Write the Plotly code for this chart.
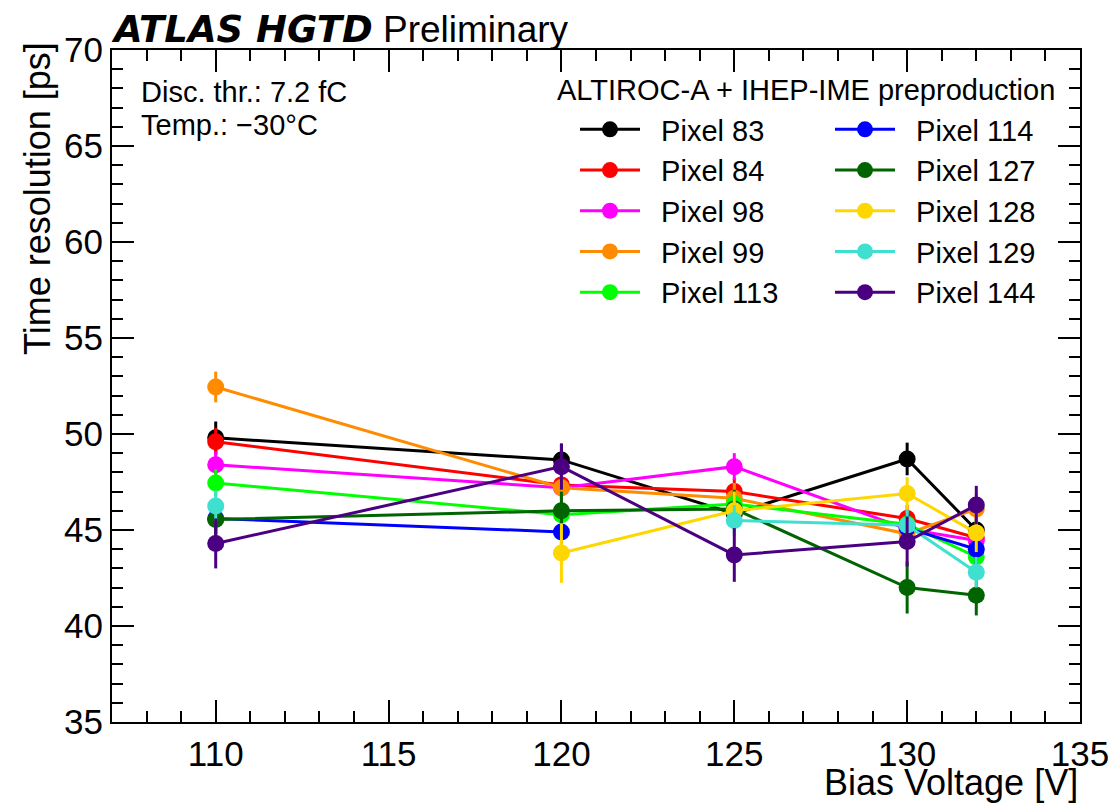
import plotly.graph_objects as go

# ---- data ----
voltages = [110, 120, 125, 130, 132]

pixel_names = ["Pixel 83", "Pixel 84", "Pixel 98", "Pixel 99", "Pixel 113",
               "Pixel 114", "Pixel 127", "Pixel 128", "Pixel 129", "Pixel 144"]

p83 = [49.8, 48.65, 45.85, 48.7, 45.0]
p84 = [49.6, 47.35, 47.0, 45.6, 44.6]
p98 = [48.4, 47.2, 48.3, 45.05, 44.45]
p99 = [52.45, 47.2, 46.65, 44.8, 46.1]
p113 = [47.45, 45.8, 46.35, 45.3, 43.6]
p114 = [45.6, 44.9, None, 45.1, 44.0]
p127 = [45.55, 46.0, 46.1, 42.0, 41.6]
p128 = [None, 43.8, 46.0, 46.9, 44.85]
p129 = [46.25, None, 45.5, 45.25, 42.8]
p144 = [44.3, 48.3, 43.7, 44.4, 46.3]

e83 = [0.85, 0.85, 0.8, 0.85, 0.8]
e84 = [0.7, 0.7, 0.7, 0.7, 0.7]
e98 = [0.7, 0.7, 0.7, 0.7, 0.7]
e99 = [0.8, 0.8, 0.8, 0.8, 0.8]
e113 = [0.7, 0.7, 0.7, 0.7, 0.7]
e114 = [0.8, 0.8, None, 0.8, 0.8]
e127 = [1.0, 1.0, 1.0, 1.35, 1.05]
e128 = [None, 1.55, 1.0, 0.85, 1.0]
e129 = [0.8, None, 0.8, 0.8, 0.8]
e144 = [1.3, 1.2, 1.4, 1.3, 1.0]

series = [p83, p84, p98, p99, p113, p114, p127, p128, p129, p144]
errors = [e83, e84, e98, e99, e113, e114, e127, e128, e129, e144]
colors = ["#000000", "#ff0000", "#ff00ff", "#ff8c00", "#00ff00",
          "#0000ff", "#006400", "#ffd700", "#40e0d0", "#4b0082"]
# legend column for each pixel
legend_ids = ["legend"] * 5 + ["legend2"] * 5

FONT = "Liberation Sans, Arial, Helvetica, sans-serif"

fig = go.Figure()
for name, ys, es, col, lg in zip(pixel_names, series, errors, colors, legend_ids):
    fig.add_trace(go.Scatter(
        x=voltages, y=ys, name="\u00a0\u00a0" + name, mode="lines+markers",
        line=dict(color=col, width=3),
        marker=dict(color=col, size=17, symbol="circle"),
        error_y=dict(type="data", array=[e if e is not None else 0 for e in es],
                     visible=True, color=col, thickness=3, width=0),
        connectgaps=False, legend=lg,
    ))

axis_common = dict(
    showline=True, linecolor="black", linewidth=2, mirror="allticks",
    ticks="inside", ticklen=22, tickwidth=2, tickcolor="black",
    showgrid=False, zeroline=False,
    tickfont=dict(family=FONT, size=35, color="black"),
)

fig.update_xaxes(range=[107, 135], dtick=5, tick0=0,
                 minor=dict(dtick=1, ticks="inside", ticklen=11, tickwidth=2, tickcolor="black"),
                 **axis_common)
fig.update_yaxes(range=[35, 70], dtick=5, tick0=0,
                 minor=dict(dtick=1, ticks="inside", ticklen=11, tickwidth=2, tickcolor="black"),
                 **axis_common)

legend_common = dict(
    orientation="v", y=(722 - 104) / 672, xanchor="left", yanchor="top",
    font=dict(family=FONT, size=29, color="black"),
    bgcolor="rgba(0,0,0,0)", itemwidth=60, tracegroupgap=0,
)

fig.update_layout(
    width=1114, height=806,
    margin=dict(l=112, r=34, t=50, b=84, autoexpand=False),
    paper_bgcolor="white", plot_bgcolor="white",
    font=dict(family=FONT, color="black"),
    showlegend=True,
    legend=dict(x=(575 - 112) / 968, **legend_common),
    legend2=dict(x=(830 - 112) / 968, **legend_common),
)

annotations = [
    dict(text="<b><i><span style='font-family:DejaVu Sans'>ATLAS HGTD</span></i></b> Preliminary",
         xref="paper", yref="paper",
         x=0, y=1, xanchor="left", yanchor="bottom", showarrow=False, xshift=-3,
         font=dict(family=FONT, size=37, color="black"), yshift=-3),
    dict(text="Disc. thr.: 7.2 fC", xref="paper", yref="paper",
         x=(139 - 112) / 968, y=(722 - 92) / 672, xanchor="left", yanchor="middle",
         showarrow=False, font=dict(family=FONT, size=29, color="black")),
    dict(text="Temp.: \u221230\u00b0C", xref="paper", yref="paper",
         x=(139 - 112) / 968, y=(722 - 125) / 672, xanchor="left", yanchor="middle",
         showarrow=False, font=dict(family=FONT, size=29, color="black")),
    dict(text="ALTIROC-A + IHEP-IME preproduction", xref="paper", yref="paper",
         x=(1057 - 112) / 968, y=(722 - 90) / 672, xanchor="right", yanchor="middle",
         showarrow=False, font=dict(family=FONT, size=29, color="black")),
    dict(text="Time resolution [ps]", xref="paper", yref="paper",
         x=0, y=1, xanchor="right", yanchor="top", xshift=-52, yshift=10,
         textangle=-90, showarrow=False, font=dict(family=FONT, size=36, color="black")),
    dict(text="Bias Voltage [V]", xref="paper", yref="paper",
         x=1, y=-(805 - 722) / 672, xanchor="right", yanchor="bottom",
         showarrow=False, font=dict(family=FONT, size=36, color="black")),
]
fig.update_layout(annotations=annotations)

fig.write_html("out.html")
